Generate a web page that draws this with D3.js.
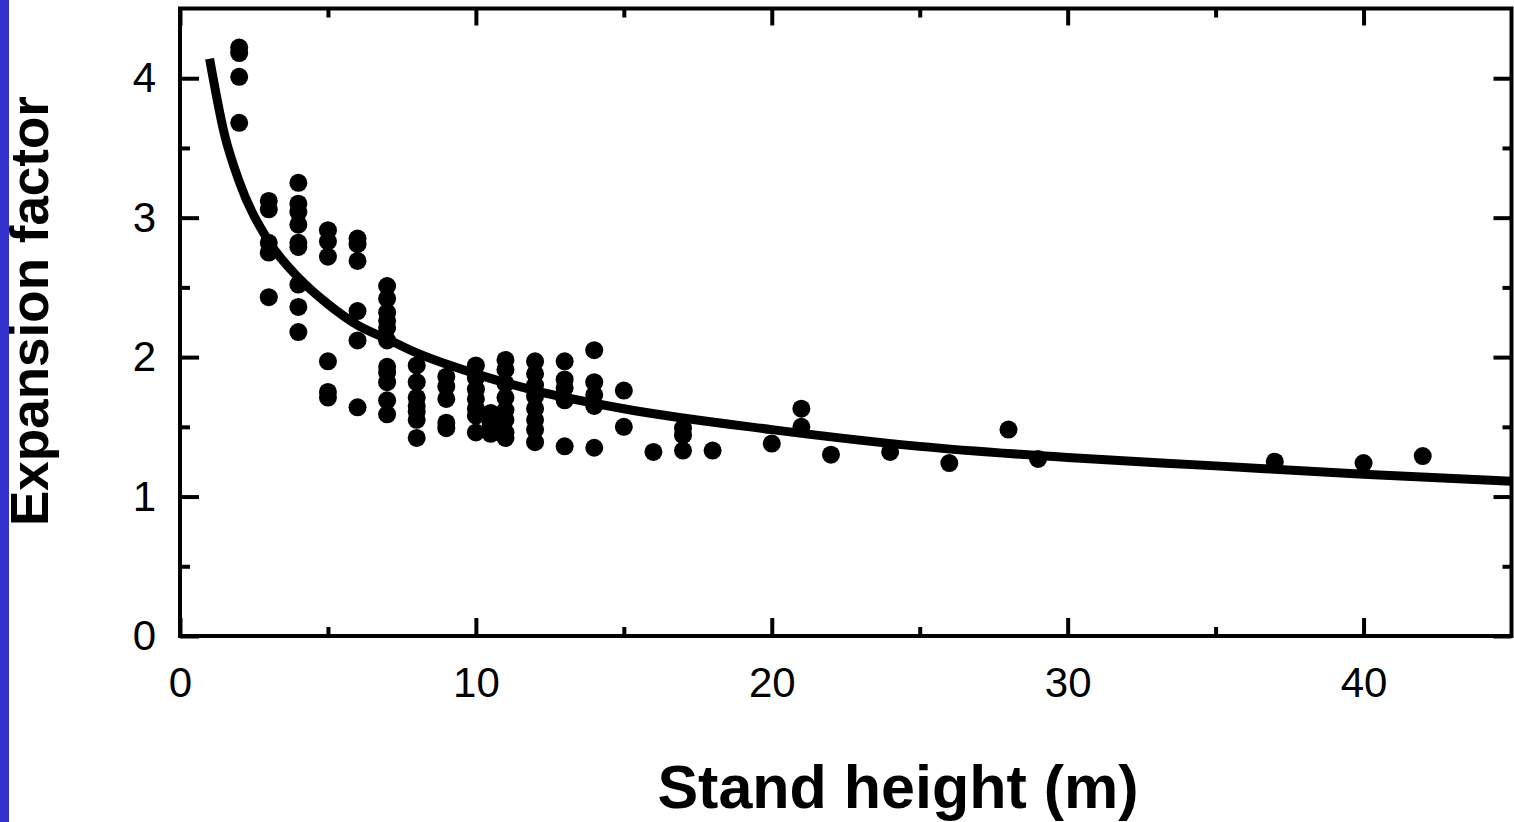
<!DOCTYPE html>
<html>
<head>
<meta charset="utf-8">
<script src="https://cdn.jsdelivr.net/npm/d3@7"></script>
<style>
  body { margin: 0; background: #fff; }
  svg { display: block; font-family: "Liberation Sans", Arial, sans-serif; }
</style>
</head>
<body>
<svg id="chart" width="1514" height="822"></svg>
<script>
// observations: stand height (m) and expansion factor
const heights = [
  2, 2, 2, 2,
  3, 3, 3, 3, 3,
  4, 4, 4, 4, 4, 4, 4, 4, 4,
  5, 5, 5, 5, 5, 5,
  6, 6, 6, 6, 6, 6,
  7, 7, 7, 7, 7, 7, 7, 7, 7, 7, 7,
  8, 8, 8, 8, 8, 8, 8,
  9, 9, 9, 9, 9,
  10, 10, 10, 10, 10, 10, 10,
  10.5, 10.5, 10.5,
  11, 11, 11, 11, 11, 11, 11, 11,
  12, 12, 12, 12, 12, 12, 12, 12,
  13, 13, 13, 13, 13,
  14, 14, 14, 14, 14,
  15, 15, 16, 17, 17, 17, 18, 20, 21, 21, 22, 24, 26, 28, 29, 37, 40, 42
];
const factors = [
  4.22, 4.18, 4.01, 3.68,
  3.12, 3.06, 2.82, 2.75, 2.43,
  3.25, 3.10, 3.04, 2.95, 2.82, 2.79, 2.52, 2.36, 2.18,
  2.91, 2.83, 2.72, 1.97, 1.75, 1.71,
  2.85, 2.81, 2.69, 2.33, 2.12, 1.64,
  2.51, 2.42, 2.32, 2.26, 2.21, 2.12, 1.93, 1.89, 1.82, 1.69, 1.59,
  1.94, 1.82, 1.71, 1.65, 1.61, 1.55, 1.42,
  1.86, 1.79, 1.70, 1.53, 1.49,
  1.94, 1.85, 1.77, 1.70, 1.63, 1.58, 1.46,
  1.60, 1.52, 1.45,
  1.98, 1.91, 1.81, 1.71, 1.62, 1.55, 1.46, 1.42,
  1.97, 1.88, 1.80, 1.72, 1.63, 1.55, 1.48, 1.39,
  1.97, 1.84, 1.78, 1.69, 1.36,
  2.05, 1.82, 1.73, 1.65, 1.35,
  1.76, 1.50, 1.32, 1.49, 1.44, 1.33, 1.33, 1.38, 1.63, 1.50, 1.30, 1.32, 1.24, 1.48, 1.27, 1.25, 1.24, 1.29
];

// fitted curve
const curveX = [1, 1.5, 2, 3, 4, 5, 6, 7, 8, 10, 12, 15, 20, 25, 30, 35, 40, 45];
const curveY = [4.14, 3.60, 3.26, 2.83, 2.57, 2.38, 2.23, 2.13, 2.03, 1.88, 1.76, 1.63, 1.48, 1.36, 1.28, 1.22, 1.16, 1.11];

const xMajor = [0, 10, 20, 30, 40];
const xMinor = [5, 15, 25, 35];
const yMajor = [0, 1, 2, 3, 4];
const yMinor = [0.5, 1.5, 2.5, 3.5];

const svg = d3.select("#chart");
const margin = { left: 180, top: 8.5, right: 1511.5, bottom: 636 };

const x = d3.scaleLinear().domain([0, 45]).range([margin.left, margin.right]);
const y = d3.scaleLinear().domain([0, 4.5]).range([margin.bottom, margin.top]);

// blue strip at the left edge
svg.append("rect").attr("x", 0).attr("y", 0).attr("width", 9).attr("height", 822).attr("fill", "#3333cc");

function styleAxis(g) {
  g.select(".domain").remove();
  g.selectAll(".tick line").attr("stroke", "#000").attr("stroke-width", 4);
  g.selectAll(".tick text").attr("fill", "#000").attr("font-size", 42);
}

// bottom
svg.append("g").attr("transform", `translate(0,${margin.bottom})`)
  .call(d3.axisBottom(x).tickValues(xMajor).tickSize(-18).tickPadding(31).tickFormat(d3.format("d")))
  .call(styleAxis);
svg.append("g").attr("transform", `translate(0,${margin.bottom})`)
  .call(d3.axisBottom(x).tickValues(xMinor).tickSize(-9).tickFormat(""))
  .call(styleAxis);
// top
svg.append("g").attr("transform", `translate(0,${margin.top})`)
  .call(d3.axisTop(x).tickValues(xMajor).tickSize(-17).tickFormat(""))
  .call(styleAxis);
svg.append("g").attr("transform", `translate(0,${margin.top})`)
  .call(d3.axisTop(x).tickValues(xMinor).tickSize(-9).tickFormat(""))
  .call(styleAxis);
// left
svg.append("g").attr("transform", `translate(${margin.left},0)`)
  .call(d3.axisLeft(y).tickValues(yMajor).tickSize(-19).tickPadding(24).tickFormat(d3.format("d")))
  .call(styleAxis);
svg.append("g").attr("transform", `translate(${margin.left},0)`)
  .call(d3.axisLeft(y).tickValues(yMinor).tickSize(-10).tickFormat(""))
  .call(styleAxis);
// right
svg.append("g").attr("transform", `translate(${margin.right},0)`)
  .call(d3.axisRight(y).tickValues(yMajor).tickSize(-18).tickFormat(""))
  .call(styleAxis);
svg.append("g").attr("transform", `translate(${margin.right},0)`)
  .call(d3.axisRight(y).tickValues(yMinor).tickSize(-9).tickFormat(""))
  .call(styleAxis);

// frame
svg.append("rect")
  .attr("x", margin.left).attr("y", margin.top)
  .attr("width", margin.right - margin.left).attr("height", margin.bottom - margin.top)
  .attr("fill", "none").attr("stroke", "#000").attr("stroke-width", 4);

// points
svg.append("g").selectAll("circle")
  .data(heights.map((h, i) => [h, factors[i]]))
  .enter().append("circle")
  .attr("cx", d => x(d[0]))
  .attr("cy", d => y(d[1]))
  .attr("r", 9)
  .attr("fill", "#000");

// fitted curve
const line = d3.line().x(d => x(d[0])).y(d => y(d[1])).curve(d3.curveMonotoneX);
svg.append("path")
  .datum(curveX.map((v, i) => [v, curveY[i]]))
  .attr("d", line)
  .attr("fill", "none")
  .attr("stroke", "#000")
  .attr("stroke-width", 9);

// axis titles
svg.append("text")
  .attr("x", 898).attr("y", 808)
  .attr("text-anchor", "middle")
  .attr("font-weight", "bold").attr("font-size", 61)
  .text("Stand height (m)");

svg.append("text")
  .attr("transform", "translate(48,311) rotate(-90)")
  .attr("text-anchor", "middle")
  .attr("font-weight", "bold").attr("font-size", 53)
  .text("Expansion factor");
</script>
</body>
</html>
